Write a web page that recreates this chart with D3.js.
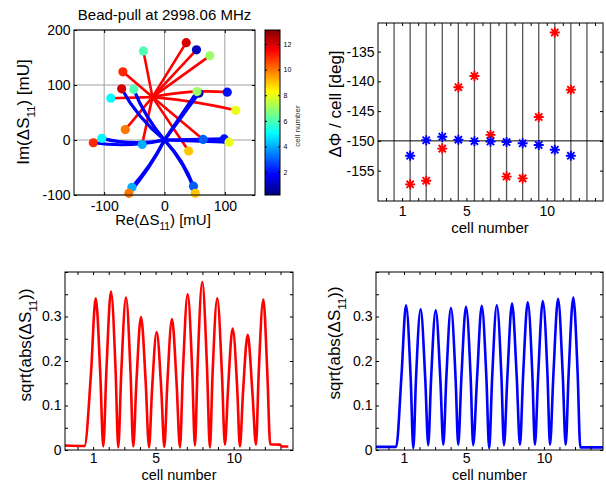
<!DOCTYPE html>
<html>
<head>
<meta charset="utf-8">
<script src="https://cdn.jsdelivr.net/npm/d3@7"></script>
<style>
  body { margin: 0; background: #fff; }
  svg { display: block; font-family: "Liberation Sans", Arial, Helvetica, sans-serif; }
  .tick text { font-size: 14px; font-family: "Liberation Sans", Arial, Helvetica, sans-serif; fill: #000; }
  .tick line { stroke: #000; }
  .cb .tick text { font-size: 7px; }
</style>
</head>
<body>
<svg id="fig" width="606" height="483"></svg>
<script>
// ---- data ----
const cells = [1, 2, 3, 4, 5, 6, 7, 8, 9, 10, 11, 12];

// bead-pull trajectories in the complex plane: start point and end point per cell [mU]
const redCenter = [-20, 78];
const redRe = [53, 104, 64, -37, -89, -35, 75, 118, 40, -65, -69, 36];
const redIm = [164, 87, 1, -8, 76, 162, 153, 54, -20, 19, 124, 177];
const redBend = [0, 0.04, 0, 0, 0, 0, 0, 0.02, 0, 0, 0, 0];
const blueCenter = [0, 0];
const blueRe = [57, 99, 48, -54, -104, -51, 54, 107, 51, -59, -118, -71];
const blueIm = [85, 2, -84, -86, 3, 92, 88, -4, -97, -97, -5, 93];
const blueBend = [0, 0, 0.05, 0.03, 0.06, 0.04, 0, 0, 0.05, 0.03, 0.05, 0.05];

// phase advance between neighbouring cells [deg]
const cellEdges = [0.5, 1.5, 2.5, 3.5, 4.5, 5.5, 6.5, 7.5, 8.5, 9.5, 10.5, 11.5, 12.5];
const phaseX = [1.5, 2.5, 3.5, 4.5, 5.5, 6.5, 7.5, 8.5, 9.5, 10.5, 11.5];
const phaseRed = [-157.3, -156.7, -151.3, -141.0, -139.1, -149.0, -156.0, -156.3, -146.0, -131.8, -141.4];
const phaseBlue = [-152.5, -149.9, -149.3, -149.8, -150.05, -150.1, -150.2, -150.4, -150.7, -151.5, -152.5];
const phaseRef = -150;

// field profiles sqrt(|dS11|): peaks, half-height shoulders, dips between cells, flat ends
const redPeakX = [1.165, 2.145, 3.105, 4.066, 5.07, 6.05, 7.055, 7.99, 8.95, 9.936, 10.9, 11.9];
const redPeakY = [0.341, 0.356, 0.3425, 0.299, 0.265, 0.294, 0.35, 0.3775, 0.341, 0.273, 0.259, 0.338];
const redRiseX = [0.86, 1.85, 2.8, 3.77, 4.77, 5.75, 6.75, 7.69, 8.65, 9.64, 10.6, 11.6];
const redFallX = [1.46, 2.44, 3.4, 4.37, 5.37, 6.35, 7.35, 8.29, 9.25, 10.23, 11.2, 12.16];
const redHalfY = [0.17, 0.178, 0.171, 0.15, 0.133, 0.147, 0.175, 0.189, 0.171, 0.137, 0.13, 0.169];
const redDipX = [1.65, 2.61, 3.57, 4.58, 5.56, 6.56, 7.52, 8.48, 9.44, 10.4, 11.43];
const redDipY = [0.008, 0.006, 0.008, 0.006, 0.007, 0.006, 0.01, 0.006, 0.012, 0.008, 0.012];
const redHead = [[-0.8, 0.01], [0.45, 0.009]];
const redTail = [[12.34, 0.013], [12.95, 0.012], [13.1, 0.008], [13.5, 0.008]];

const bluePeakX = [1.13, 2.07, 3.04, 4.02, 4.99, 6.0, 6.97, 7.95, 8.96, 9.93, 10.91, 11.89];
const bluePeakY = [0.325, 0.316, 0.314, 0.319, 0.322, 0.324, 0.325, 0.329, 0.332, 0.335, 0.3395, 0.3425];
const blueRiseX = [0.83, 1.77, 2.74, 3.72, 4.69, 5.7, 6.67, 7.65, 8.66, 9.63, 10.61, 11.59];
const blueFallX = [1.43, 2.37, 3.34, 4.32, 5.29, 6.3, 7.27, 8.25, 9.26, 10.23, 11.21, 12.17];
const blueHalfY = [0.162, 0.158, 0.157, 0.16, 0.161, 0.162, 0.162, 0.165, 0.166, 0.168, 0.17, 0.171];
const blueDipX = [1.6, 2.56, 3.53, 4.49, 5.45, 6.48, 7.43, 8.46, 9.42, 10.39, 11.4];
const blueDipY = [0.004, 0.011, 0.012, 0.012, 0.011, 0.004, 0.011, 0.012, 0.012, 0.012, 0.012];
const blueHead = [[-0.8, 0.007], [0.5, 0.007]];
const blueTail = [[12.34, 0.006], [13.8, 0.006]];

// ticks
const reTicks = [-100, 0, 100];
const imTicks = [-100, 0, 100, 200];
const cellTicks = [0, 1, 2, 3, 4, 5, 6, 7, 8, 9, 10, 11, 12, 13];
const cellLabels = [1, 5, 10];
const phaseTicks = [-155, -150, -145, -140, -135];
const ampTicks = [0, 0.05, 0.1, 0.15, 0.2, 0.25, 0.3, 0.35, 0.4];
const ampLabels = [0, 0.1, 0.2, 0.3];
const cbTicks = [2, 4, 6, 8, 10, 12];
const cLim = [0.2, 13.1];

// ---- layout ----
const svg = d3.select('#fig');
const TL = { x0: 74, x1: 255, y0: 30, y1: 195 };
const TR = { x0: 378, x1: 603, y0: 23, y1: 201 };
const BL = { x0: 65, x1: 293, y0: 272, y1: 450 };
const BR = { x0: 376, x1: 603, y0: 272, y1: 450 };
const CB = { x0: 265, x1: 280, y0: 30, y1: 195 };

const jetStops = [0, 1 / 8, 3 / 8, 5 / 8, 7 / 8, 1];
const jetColors = ['#000080', '#0000ff', '#00ffff', '#ffff00', '#ff0000', '#800000'];
const jet = d3.scaleLinear()
  .domain(jetStops.map(t => cLim[0] + t * (cLim[1] - cLim[0])))
  .range(jetColors)
  .interpolate(d3.interpolateRgb)
  .clamp(true);

function axes(b, x, y, xt, xl, yt, yl, pad) {
  const g = svg.append('g');
  const fmt = labels => d => labels.includes(d) ? String(d) : '';
  g.append('g').attr('transform', `translate(0,${b.y1})`)
    .call(d3.axisBottom(x).tickValues(xt).tickFormat(fmt(xl)).tickSize(-3).tickSizeOuter(0).tickPadding(pad));
  g.append('g').attr('transform', `translate(0,${b.y0})`)
    .call(d3.axisTop(x).tickValues(xt).tickFormat('').tickSize(-3).tickSizeOuter(0));
  g.append('g').attr('transform', `translate(${b.x0},0)`)
    .call(d3.axisLeft(y).tickValues(yt).tickFormat(fmt(yl)).tickSize(-3).tickSizeOuter(0).tickPadding(3.5));
  g.append('g').attr('transform', `translate(${b.x1},0)`)
    .call(d3.axisRight(y).tickValues(yt).tickFormat('').tickSize(-3).tickSizeOuter(0));
  g.selectAll('.domain').remove();
  g.append('rect')
    .attr('x', b.x0).attr('y', b.y0)
    .attr('width', b.x1 - b.x0).attr('height', b.y1 - b.y0)
    .attr('fill', 'none').attr('stroke', '#000');
  return g;
}

// label with an "11" subscript after the first part
function subLabel(txt, pre, post, size) {
  txt.append('tspan').text(pre);
  txt.append('tspan').attr('font-size', size * 0.68).attr('dy', size * 0.33).text('11');
  txt.append('tspan').attr('dy', -size * 0.33).text(post);
}

// ---- top left: complex plane ----
{
  const x = d3.scaleLinear().domain([-150, 150]).range([TL.x0, TL.x1]);
  const y = d3.scaleLinear().domain([-100, 200]).range([TL.y1, TL.y0]);

  const grid = svg.append('g').attr('stroke', '#a0a0a0').attr('stroke-width', 1);
  grid.selectAll('line.gx').data(reTicks).join('line')
    .attr('x1', d => x(d)).attr('x2', d => x(d)).attr('y1', TL.y0).attr('y2', TL.y1);
  grid.selectAll('line.gy').data(imTicks).join('line')
    .attr('y1', d => y(d)).attr('y2', d => y(d)).attr('x1', TL.x0).attr('x2', TL.x1);

  const traj = (c, re, im, bend) => {
    const dx = re - c[0], dy = im - c[1];
    const qx = (c[0] + re) / 2 - dy * bend * 2;
    const qy = (c[1] + im) / 2 + dx * bend * 2;
    const p = d3.path();
    p.moveTo(x(c[0]), y(c[1]));
    p.quadraticCurveTo(x(qx), y(qy), x(re), y(im));
    return p.toString();
  };

  svg.append('g').selectAll('path').data(cells).join('path')
    .attr('d', (d, i) => traj(redCenter, redRe[i], redIm[i], redBend[i]))
    .attr('fill', 'none').attr('stroke', '#ff0000').attr('stroke-width', 2.6)
    .attr('stroke-linecap', 'round');
  svg.append('g').selectAll('path').data(cells).join('path')
    .attr('d', (d, i) => traj(blueCenter, blueRe[i], blueIm[i], blueBend[i]))
    .attr('fill', 'none').attr('stroke', '#0000ff').attr('stroke-width', 3.2)
    .attr('stroke-linecap', 'round');

  const dots = svg.append('g');
  cells.forEach((c, i) => {
    dots.append('circle').attr('cx', x(redRe[i])).attr('cy', y(redIm[i])).attr('r', 4.6).attr('fill', jet(c));
    dots.append('circle').attr('cx', x(blueRe[i])).attr('cy', y(blueIm[i])).attr('r', 4.6).attr('fill', jet(c));
  });

  axes(TL, x, y, reTicks, reTicks, imTicks, imTicks, 6);

  svg.append('text').attr('x', (TL.x0 + TL.x1) / 2).attr('y', 20)
    .attr('text-anchor', 'middle').attr('font-size', 15).text('Bead-pull at 2998.06 MHz');
  subLabel(svg.append('text').attr('x', 163).attr('y', 225).attr('text-anchor', 'middle').attr('font-size', 15),
    'Re(ΔS', ') [mU]', 15);
  subLabel(svg.append('text').attr('transform', 'translate(29,112) rotate(-90)')
    .attr('text-anchor', 'middle').attr('font-size', 17), 'Im(ΔS', ') [mU]', 17);

  // colour bar
  const grad = svg.append('defs').append('linearGradient').attr('id', 'jet')
    .attr('x1', 0).attr('y1', 1).attr('x2', 0).attr('y2', 0);
  grad.selectAll('stop').data(jetStops).join('stop')
    .attr('offset', d => d).attr('stop-color', (d, i) => jetColors[i]);
  svg.append('rect').attr('x', CB.x0).attr('y', CB.y0)
    .attr('width', CB.x1 - CB.x0).attr('height', CB.y1 - CB.y0).attr('fill', 'url(#jet)');
  const cy = d3.scaleLinear().domain(cLim).range([CB.y1, CB.y0]);
  const cb = svg.append('g').attr('class', 'cb');
  cb.append('g').attr('transform', `translate(${CB.x1},0)`)
    .call(d3.axisRight(cy).tickValues(cbTicks).tickSize(-2).tickSizeOuter(0).tickPadding(3.5));
  cb.append('g').attr('transform', `translate(${CB.x0},0)`)
    .call(d3.axisLeft(cy).tickValues(cbTicks).tickFormat('').tickSize(-2).tickSizeOuter(0));
  cb.selectAll('.domain').remove();
  cb.append('rect').attr('x', CB.x0).attr('y', CB.y0)
    .attr('width', CB.x1 - CB.x0).attr('height', CB.y1 - CB.y0)
    .attr('fill', 'none').attr('stroke', '#000');
  svg.append('text').attr('transform', 'translate(300,126) rotate(-90)')
    .attr('text-anchor', 'middle').attr('font-size', 8).attr('fill', '#333').text('cell number');
}

// ---- top right: phase advance per cell ----
{
  const x = d3.scaleLinear().domain([-0.5, 13.5]).range([TR.x0, TR.x1]);
  const y = d3.scaleLinear().domain([-160.1, -130.2]).range([TR.y1, TR.y0]);

  svg.append('g').selectAll('line').data(cellEdges).join('line')
    .attr('x1', d => x(d)).attr('x2', d => x(d)).attr('y1', TR.y0).attr('y2', TR.y1)
    .attr('stroke', '#555').attr('stroke-width', 1.3);
  svg.append('line').attr('x1', TR.x0).attr('x2', TR.x1)
    .attr('y1', y(phaseRef)).attr('y2', y(phaseRef)).attr('stroke', '#000');

  const star = (s) => {
    const a = s * 0.72;
    return `M${-s},0H${s}M0,${-s}V${s}M${-a},${-a}L${a},${a}M${-a},${a}L${a},${-a}`;
  };
  const drawStars = (vals, color) => svg.append('g').selectAll('path').data(vals).join('path')
    .attr('transform', (d, i) => `translate(${x(phaseX[i])},${y(d)})`)
    .attr('d', star(5)).attr('stroke', color).attr('stroke-width', 1.9).attr('fill', 'none');
  drawStars(phaseRed, '#ff0000');
  drawStars(phaseBlue, '#0000ff');

  axes(TR, x, y, cellTicks, cellLabels, phaseTicks, phaseTicks, 5);

  svg.append('text').attr('x', 490).attr('y', 233).attr('text-anchor', 'middle')
    .attr('font-size', 15).text('cell number');
  svg.append('text').attr('transform', 'translate(341,104) rotate(-90)')
    .attr('text-anchor', 'middle').attr('font-size', 17).text('ΔΦ / cell [deg]');
}

// ---- bottom: field profiles ----
function profile(b, s, color, labelX, labelY) {
  const x = d3.scaleLinear().domain([-0.8, 13.8]).range([b.x0, b.x1]);
  const y = d3.scaleLinear().domain([0, 0.4]).range([b.y1, b.y0]);
  const pts = s.head.slice();
  s.peakX.forEach((p, i) => {
    pts.push([s.riseX[i], s.halfY[i]]);
    pts.push([p, s.peakY[i]]);
    pts.push([s.fallX[i], s.halfY[i]]);
    if (i < s.dipX.length) pts.push([s.dipX[i], s.dipY[i]]);
  });
  s.tail.forEach(p => pts.push(p));

  svg.append('path').datum(pts)
    .attr('d', d3.line().x(d => x(d[0])).y(d => y(d[1])).curve(d3.curveMonotoneX))
    .attr('fill', 'none').attr('stroke', color).attr('stroke-width', 2.6)
    .attr('stroke-linejoin', 'round');

  axes(b, x, y, cellTicks, cellLabels, ampTicks, ampLabels, 3);

  svg.append('text').attr('x', (b.x0 + b.x1) / 2).attr('y', 479.5).attr('text-anchor', 'middle')
    .attr('font-size', 14.5).text('cell number');
  subLabel(svg.append('text').attr('transform', `translate(${labelX},${labelY}) rotate(-90)`)
    .attr('text-anchor', 'middle').attr('font-size', 17), 'sqrt(abs(ΔS', '))', 17);
}

profile(BL, {
  head: redHead, peakX: redPeakX, peakY: redPeakY, riseX: redRiseX, fallX: redFallX,
  halfY: redHalfY, dipX: redDipX, dipY: redDipY, tail: redTail
}, '#ff0000', 31, 345);
profile(BR, {
  head: blueHead, peakX: bluePeakX, peakY: bluePeakY, riseX: blueRiseX, fallX: blueFallX,
  halfY: blueHalfY, dipX: blueDipX, dipY: blueDipY, tail: blueTail
}, '#0000ff', 340, 343);
</script>
</body>
</html>
